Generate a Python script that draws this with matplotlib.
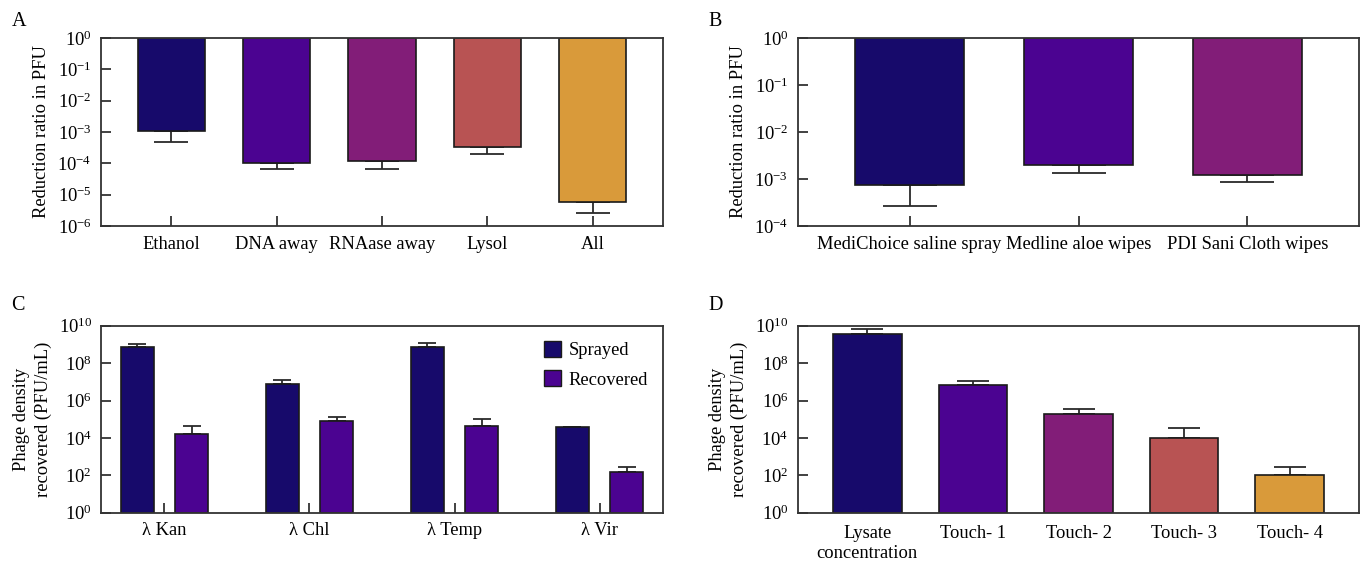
import matplotlib
matplotlib.use("Agg")
import matplotlib.pyplot as plt
import numpy as np
from matplotlib.patches import Patch
from matplotlib.ticker import LogLocator, NullLocator

plt.rcParams['font.family'] = ['Liberation Serif', 'DejaVu Serif']
plt.rcParams['mathtext.fontset'] = 'custom'
plt.rcParams['mathtext.rm'] = 'Liberation Serif'
plt.rcParams['mathtext.it'] = 'Liberation Serif:italic'
plt.rcParams['mathtext.bf'] = 'Liberation Serif:bold'

# ---- Data ----
a_labels = ["Ethanol", "DNA away", "RNAase away", "Lysol", "All"]
a_values = [1.07e-3, 1.04e-4, 1.2e-4, 3.3e-4, 5.9e-6]
a_err_low = [4.9e-4, 6.5e-5, 6.5e-5, 2.0e-4, 2.6e-6]

b_labels = ["MediChoice saline spray", "Medline aloe wipes", "PDI Sani Cloth wipes"]
b_values = [7.4e-4, 2.0e-3, 1.22e-3]
b_err_low = [2.7e-4, 1.35e-3, 8.8e-4]

c_labels = ["λ Kan", "λ Chl", "λ Temp", "λ Vir"]
c_sprayed = [7.5e8, 7.9e6, 7.5e8, 4.0e4]
c_sprayed_err_high = [1.1e9, 1.24e7, 1.2e9, 4.0e4]
c_recovered = [1.7e4, 7.6e4, 4.5e4, 156]
c_recovered_err_high = [4.3e4, 1.26e5, 9.8e4, 290]

d_labels = ["Lysate\nconcentration", "Touch- 1", "Touch- 2", "Touch- 3", "Touch- 4"]
d_values = [3.4e9, 6.4e6, 2.0e5, 1.0e4, 103]
d_err_high = [6.3e9, 1.05e7, 3.4e5, 3.2e4, 265]

colors = ["#170a6b", "#4b0391", "#821d78", "#b85353", "#d99a3a"]
edge = "#1a1a1a"
ecol = "#2a2a2a"
FS = 13.3

fig = plt.figure(figsize=(13.61, 5.61), dpi=100)
W, H = 1361, 561

def make_ax(left, top, right, bottom):
    return fig.add_axes([left / W, 1 - bottom / H, (right - left) / W, (bottom - top) / H])

def style(ax):
    ax.set_yscale('log')
    for s in ax.spines.values():
        s.set_linewidth(1.3)
        s.set_color("#333333")
    ax.tick_params(axis='both', direction='in', length=7, width=1.3, color="#333333",
                   labelsize=FS, top=False, right=False)
    ax.tick_params(axis='x', pad=7)
    ax.tick_params(axis='y', pad=7)

axA = make_ax(101.4, 38, 662.6, 226)
axB = make_ax(798, 38, 1359, 226)
axC = make_ax(101.4, 325.7, 662.6, 512.7)
axD = make_ax(798, 325.7, 1359, 512.7)

# ---- A ----
x = np.arange(len(a_labels))
v = np.array(a_values)
axA.bar(x, 1 - v, bottom=v, width=0.64, color=colors, edgecolor=edge, linewidth=1.2, zorder=2)
axA.errorbar(x, v, yerr=[v - np.array(a_err_low), np.zeros_like(v)], fmt='none',
             ecolor=ecol, elinewidth=1.3, capsize=11.9, capthick=1.3, zorder=1)
style(axA)
axA.set_ylim(1e-6, 1)
axA.set_xlim(-0.665, len(a_labels) - 0.335)
axA.set_xticks(x)
axA.set_xticklabels(a_labels)
axA.yaxis.set_major_locator(LogLocator(base=10, numticks=20))
axA.yaxis.set_minor_locator(NullLocator())
axA.set_ylabel("Reduction ratio in PFU", fontsize=FS, labelpad=5)

# ---- B ----
x = np.arange(len(b_labels))
v = np.array(b_values)
axB.bar(x, 1 - v, bottom=v, width=0.65, color=colors[:3], edgecolor=edge, linewidth=1.2, zorder=2)
axB.errorbar(x, v, yerr=[v - np.array(b_err_low), np.zeros_like(v)], fmt='none',
             ecolor=ecol, elinewidth=1.3, capsize=19.5, capthick=1.3, zorder=1)
style(axB)
axB.set_ylim(1e-4, 1)
axB.set_xlim(-0.66, len(b_labels) - 0.34)
axB.set_xticks(x)
axB.set_xticklabels(b_labels)
axB.yaxis.set_major_locator(LogLocator(base=10, numticks=20))
axB.yaxis.set_minor_locator(NullLocator())
axB.set_ylabel("Reduction ratio in PFU", fontsize=FS, labelpad=5)

# ---- C ----
x = np.arange(len(c_labels))
off = 0.187
bw = 0.231
s = np.array(c_sprayed)
r = np.array(c_recovered)
axC.bar(x - off, s - 1, bottom=1, width=bw, color=colors[0], edgecolor=edge, linewidth=1.2, zorder=2)
axC.bar(x + off, r - 1, bottom=1, width=bw, color=colors[1], edgecolor=edge, linewidth=1.2, zorder=2)
axC.errorbar(x - off, s, yerr=[np.zeros_like(s), np.array(c_sprayed_err_high) - s], fmt='none',
             ecolor=ecol, elinewidth=1.3, capsize=6.3, capthick=1.3, zorder=1)
axC.errorbar(x + off, r, yerr=[np.zeros_like(r), np.array(c_recovered_err_high) - r], fmt='none',
             ecolor=ecol, elinewidth=1.3, capsize=6.3, capthick=1.3, zorder=1)
style(axC)
axC.set_ylim(1, 1e10)
axC.set_xlim(-0.435, len(c_labels) - 0.565)
axC.set_xticks(x)
axC.set_xticklabels(c_labels)
axC.set_yticks([1e0, 1e2, 1e4, 1e6, 1e8, 1e10])
axC.yaxis.set_minor_locator(NullLocator())
axC.set_ylabel("Phage density\nrecovered (PFU/mL)", fontsize=FS, linespacing=1.35, labelpad=5)
handles = [Patch(facecolor=colors[0], edgecolor=edge, linewidth=1.0, label="Sprayed"),
           Patch(facecolor=colors[1], edgecolor=edge, linewidth=1.0, label="Recovered")]
axC.legend(handles=handles, loc='upper left', frameon=False, fontsize=FS,
           handlelength=0.93, handleheight=0.93, handletextpad=0.4, labelspacing=0.6,
           borderpad=0, borderaxespad=0, bbox_to_anchor=(0.789, 0.918))

# ---- D ----
x = np.arange(len(d_labels))
v = np.array(d_values)
axD.bar(x, v - 1, bottom=1, width=0.65, color=colors, edgecolor=edge, linewidth=1.2, zorder=2)
axD.errorbar(x, v, yerr=[np.zeros_like(v), np.array(d_err_high) - v], fmt='none',
             ecolor=ecol, elinewidth=1.3, capsize=11.2, capthick=1.3, zorder=1)
style(axD)
axD.set_ylim(1, 1e10)
axD.set_xlim(-0.655, len(d_labels) - 0.345)
axD.set_xticks(x)
axD.set_xticklabels(d_labels, linespacing=1.25)
axD.tick_params(axis='x', pad=8.5)
axD.set_yticks([1e0, 1e2, 1e4, 1e6, 1e8, 1e10])
axD.yaxis.set_minor_locator(NullLocator())
axD.set_ylabel("Phage density\nrecovered (PFU/mL)", fontsize=FS, linespacing=1.35, labelpad=5)

# panel letters
for lab, px, py in [("A", 12, 21), ("B", 708, 21), ("C", 11, 306), ("D", 708, 306)]:
    fig.text(px / W, 1 - py / H, lab, fontsize=14.5, ha='left', va='center')

fig.savefig("out.png", dpi=100)
